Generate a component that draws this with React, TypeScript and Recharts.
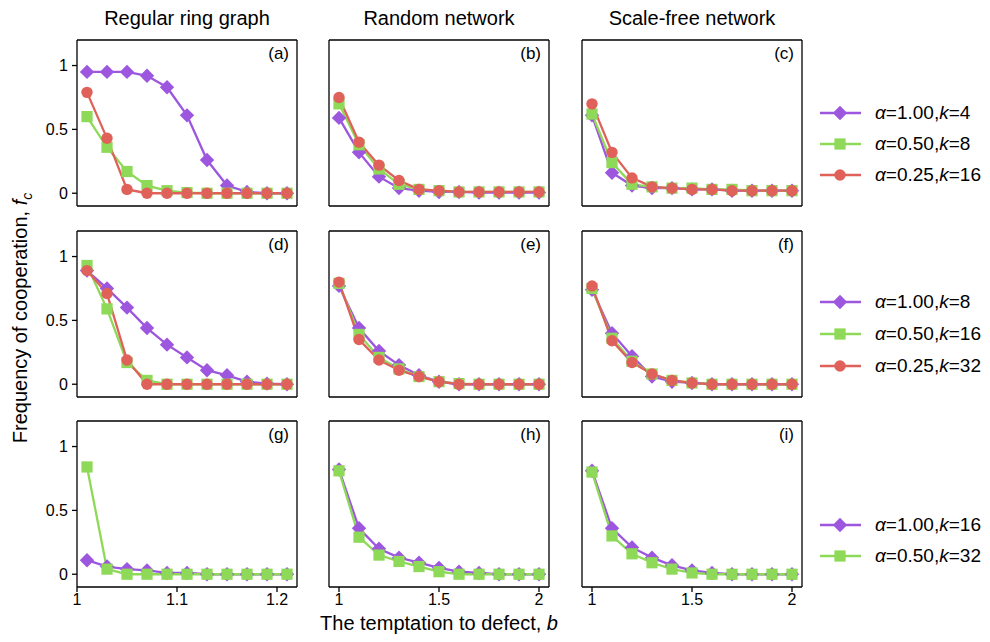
import React from "react";
import { LineChart, Line, XAxis, YAxis, ReferenceLine } from "recharts";

// b values for the ring graph column and for the two network columns
const RING_B = [1.01, 1.03, 1.05, 1.07, 1.09, 1.11, 1.13, 1.15, 1.17, 1.19, 1.21];
const NET_B = [1.0, 1.1, 1.2, 1.3, 1.4, 1.5, 1.6, 1.7, 1.8, 1.9, 2.0];

const RING_TICKS = [1, 1.1, 1.2];
const NET_TICKS = [1, 1.5, 2];
const FC_TICKS = [0, 0.5, 1];

const COLUMN_TITLES = ["Regular ring graph", "Random network", "Scale-free network"];
const PANEL_LETTERS = ["(a)", "(b)", "(c)", "(d)", "(e)", "(f)", "(g)", "(h)", "(i)"];

// row 1: α=1.00,k=4 / α=0.50,k=8 / α=0.25,k=16
const ringA100k4 = [0.95, 0.95, 0.95, 0.92, 0.83, 0.61, 0.26, 0.06, 0.01, 0, 0];
const ringA050k8 = [0.6, 0.36, 0.17, 0.06, 0.02, 0.005, 0, 0, 0, 0, 0];
const ringA025k16 = [0.79, 0.43, 0.03, 0, 0, 0, 0, 0, 0, 0, 0];
const randA100k4 = [0.59, 0.32, 0.13, 0.04, 0.02, 0.01, 0.01, 0.005, 0.005, 0.005, 0.005];
const randA050k8 = [0.7, 0.38, 0.19, 0.07, 0.03, 0.02, 0.01, 0.01, 0.01, 0.01, 0.01];
const randA025k16 = [0.75, 0.4, 0.22, 0.1, 0.03, 0.02, 0.01, 0.01, 0.01, 0.01, 0.01];
const sfA100k4 = [0.61, 0.16, 0.06, 0.04, 0.04, 0.03, 0.03, 0.02, 0.02, 0.02, 0.02];
const sfA050k8 = [0.62, 0.24, 0.07, 0.05, 0.04, 0.04, 0.03, 0.03, 0.02, 0.02, 0.02];
const sfA025k16 = [0.7, 0.32, 0.12, 0.05, 0.04, 0.03, 0.03, 0.02, 0.02, 0.02, 0.02];

// row 2: α=1.00,k=8 / α=0.50,k=16 / α=0.25,k=32
const ringA100k8 = [0.89, 0.75, 0.6, 0.44, 0.31, 0.21, 0.11, 0.07, 0.02, 0.005, 0];
const ringA050k16 = [0.93, 0.59, 0.17, 0.03, 0, 0, 0, 0, 0, 0, 0];
const ringA025k32 = [0.89, 0.71, 0.19, 0, 0, 0, 0, 0, 0, 0, 0];
const randA100k8 = [0.77, 0.44, 0.26, 0.15, 0.07, 0.02, 0, 0, 0, 0, 0];
const randA050k16 = [0.79, 0.39, 0.21, 0.12, 0.06, 0.02, 0.005, 0, 0, 0, 0];
const randA025k32 = [0.8, 0.35, 0.19, 0.11, 0.06, 0.02, 0, 0, 0, 0, 0];
const sfA100k8 = [0.74, 0.4, 0.22, 0.06, 0.02, 0.01, 0, 0, 0, 0, 0];
const sfA050k16 = [0.75, 0.36, 0.18, 0.08, 0.03, 0.01, 0, 0, 0, 0, 0];
const sfA025k32 = [0.77, 0.34, 0.17, 0.08, 0.03, 0.01, 0, 0, 0, 0, 0];

// row 3: α=1.00,k=16 / α=0.50,k=32
const ringA100k16 = [0.11, 0.06, 0.04, 0.03, 0.01, 0.01, 0, 0, 0, 0, 0];
const ringA050k32 = [0.84, 0.04, 0, 0, 0, 0, 0, 0, 0, 0, 0];
const randA100k16 = [0.82, 0.36, 0.2, 0.13, 0.09, 0.05, 0.02, 0.01, 0, 0, 0];
const randA050k32 = [0.81, 0.29, 0.15, 0.1, 0.06, 0.02, 0, 0, 0, 0, 0];
const sfA100k16 = [0.81, 0.36, 0.21, 0.13, 0.07, 0.03, 0.01, 0, 0, 0, 0];
const sfA050k32 = [0.8, 0.3, 0.16, 0.09, 0.04, 0.01, 0, 0, 0, 0, 0];

const LEGEND_ROW1 = ["1.00,4", "0.50,8", "0.25,16"];
const LEGEND_ROW2 = ["1.00,8", "0.50,16", "0.25,32"];
const LEGEND_ROW3 = ["1.00,16", "0.50,32"];

const COLORS = ["#9d57de", "#8ed957", "#e0615a"];
const SHAPES = ["diamond", "square", "circle"];

// layout
const PLOT_LEFT = [77, 329, 582];
const PLOT_TOP = [40, 231, 421];
const PLOT_W = 220;
const PLOT_H = 166;
const Y_AXIS_W = 40;
const M_TOP = 4;
const M_RIGHT = 6;
const X_AXIS_H = 32;
const LEGEND_Y = [
  [113, 144, 175],
  [302, 334, 366],
  [525, 556],
];
const FONT = "'Liberation Sans', Arial, Helvetica, sans-serif";

const toRows = (bs: number[], series: number[][]) =>
  bs.map((b, i) => {
    const row: Record<string, number> = { b };
    series.forEach((s, j) => {
      row[`s${j}`] = s[i];
    });
    return row;
  });

const PANELS = [
  [RING_B, [ringA100k4, ringA050k8, ringA025k16]],
  [NET_B, [randA100k4, randA050k8, randA025k16]],
  [NET_B, [sfA100k4, sfA050k8, sfA025k16]],
  [RING_B, [ringA100k8, ringA050k16, ringA025k32]],
  [NET_B, [randA100k8, randA050k16, randA025k32]],
  [NET_B, [sfA100k8, sfA050k16, sfA025k32]],
  [RING_B, [ringA100k16, ringA050k32]],
  [NET_B, [randA100k16, randA050k32]],
  [NET_B, [sfA100k16, sfA050k32]],
] as [number[], number[][]][];

const Y_DOMAIN = [-0.1, 1.2];

function Marker({ shape, cx, cy, color }: { shape: string; cx: number; cy: number; color: string }) {
  if (cx == null || cy == null) return null;
  if (shape === "diamond") {
    const r = 7.2;
    return (
      <polygon
        points={`${cx},${cy - r} ${cx + r},${cy} ${cx},${cy + r} ${cx - r},${cy}`}
        fill={color}
      />
    );
  }
  if (shape === "square") {
    const h = 5.6;
    return <rect x={cx - h} y={cy - h} width={h * 2} height={h * 2} fill={color} />;
  }
  return <circle cx={cx} cy={cy} r={5.7} fill={color} />;
}

function Panel({ index }: { index: number }) {
  const row = Math.floor(index / 3);
  const col = index % 3;
  const [bs, series] = PANELS[index];
  const data = toRows(bs, series);
  const isRing = col === 0;
  const domain = isRing ? [1, 1.22] : [0.95, 2.05];
  const axisStroke = { stroke: "#000", strokeWidth: 1.3 };
  const tickStyle = { fill: "#000", fontSize: 16 };

  return (
    <div
      style={{
        position: "absolute",
        left: PLOT_LEFT[col] - Y_AXIS_W,
        top: PLOT_TOP[row] - M_TOP,
      }}
    >
      <LineChart
        width={Y_AXIS_W + PLOT_W + M_RIGHT}
        height={M_TOP + PLOT_H + X_AXIS_H}
        data={data}
        margin={{ top: M_TOP, right: M_RIGHT, left: 0, bottom: 0 }}
      >
        <XAxis
          dataKey="b"
          type="number"
          domain={domain}
          ticks={isRing ? RING_TICKS : NET_TICKS}
          allowDataOverflow
          height={X_AXIS_H}
          axisLine={axisStroke}
          tickLine={axisStroke}
          tickSize={5}
          tickMargin={2}
          tick={row === 2 ? tickStyle : false}
          interval={0}
        />
        <YAxis
          type="number"
          domain={Y_DOMAIN}
          ticks={FC_TICKS}
          allowDataOverflow
          width={Y_AXIS_W}
          axisLine={axisStroke}
          tickLine={axisStroke}
          tickSize={5}
          tickMargin={4}
          tick={col === 0 ? tickStyle : false}
          interval={0}
        />
        {/* top and right spines */}
        <ReferenceLine y={Y_DOMAIN[1]} stroke="#000" strokeWidth={1.3} ifOverflow="visible" />
        <ReferenceLine x={domain[1]} stroke="#000" strokeWidth={1.3} ifOverflow="visible" />
        {series.map((_, j) => (
          <Line
            key={j}
            type="linear"
            dataKey={`s${j}`}
            stroke={COLORS[j]}
            strokeWidth={2.3}
            isAnimationActive={false}
            activeDot={false}
            dot={(p: any) => (
              <Marker key={`${j}-${p.index}`} shape={SHAPES[j]} cx={p.cx} cy={p.cy} color={COLORS[j]} />
            )}
          />
        ))}
      </LineChart>
      <div
        style={{
          position: "absolute",
          right: M_RIGHT + 8,
          top: M_TOP + 4,
          fontSize: 17,
          color: "#000",
        }}
      >
        {PANEL_LETTERS[index]}
      </div>
    </div>
  );
}

function LegendItem({ j, label, y }: { j: number; label: string; y: number }) {
  const [a, k] = label.split(",");
  return (
    <div style={{ position: "absolute", left: 818, top: y - 12, height: 24, display: "flex", alignItems: "center" }}>
      <svg width={46} height={24}>
        <line x1={2} y1={12} x2={43} y2={12} stroke={COLORS[j]} strokeWidth={2.3} />
        <Marker shape={SHAPES[j]} cx={22} cy={12} color={COLORS[j]} />
      </svg>
      <span style={{ marginLeft: 11, fontSize: 19, whiteSpace: "nowrap" }}>
        <i>α</i>={a},<i>k</i>={k}
      </span>
    </div>
  );
}

export default function App() {
  const legends = [LEGEND_ROW1, LEGEND_ROW2, LEGEND_ROW3];
  return (
    <div
      style={{
        position: "absolute",
        left: 0,
        top: 0,
        width: 990,
        height: 642,
        background: "#fff",
        fontFamily: FONT,
        color: "#000",
      }}
    >
      {COLUMN_TITLES.map((t, c) => (
        <div
          key={t}
          style={{
            position: "absolute",
            left: PLOT_LEFT[c] + PLOT_W / 2,
            top: 18,
            transform: "translate(-50%, -50%)",
            fontSize: 20,
            whiteSpace: "nowrap",
          }}
        >
          {t}
        </div>
      ))}
      {PANELS.map((_, i) => (
        <Panel key={i} index={i} />
      ))}
      {legends.map((items, r) =>
        items.map((label, j) => <LegendItem key={`${r}-${j}`} j={j} label={label} y={LEGEND_Y[r][j]} />)
      )}
      <div
        style={{
          position: "absolute",
          left: 22,
          top: 318,
          transform: "translate(-50%, -50%) rotate(-90deg)",
          fontSize: 20,
          whiteSpace: "nowrap",
        }}
      >
        Frequency of cooperation, <i>f</i>
        <sub style={{ fontSize: 14 }}>
          <i>c</i>
        </sub>
      </div>
      <div
        style={{
          position: "absolute",
          left: PLOT_LEFT[1] + PLOT_W / 2,
          top: 623,
          transform: "translate(-50%, -50%)",
          fontSize: 20,
          whiteSpace: "nowrap",
        }}
      >
        The temptation to defect, <i>b</i>
      </div>
    </div>
  );
}
